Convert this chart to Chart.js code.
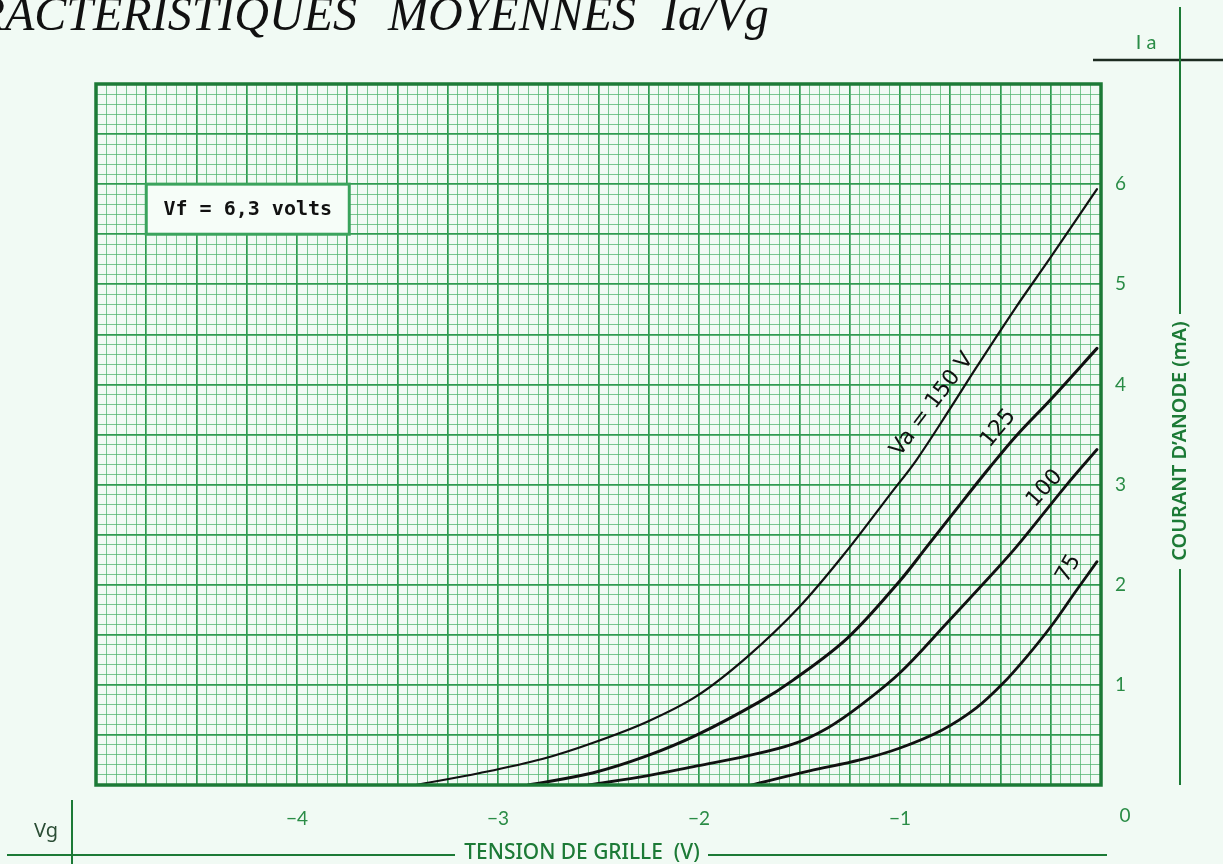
<!DOCTYPE html>
<html>
<head>
<meta charset="utf-8">
<script src="https://cdn.jsdelivr.net/npm/chart.js@4.4.1/dist/chart.umd.min.js"></script>
<style>
  html, body { margin: 0; padding: 0; background: #f1faf4; }
  #wrap { position: relative; width: 1223px; height: 864px; }
</style>
</head>
<body>
<div id="wrap"><canvas id="myChart" width="1223" height="864"></canvas></div>
<script>
// grid voltage (V) and anode current (mA)
const vg150 = [-3.41, -3.09, -2.78, -2.53, -2.26, -2.01, -1.76, -1.50, -1.26, -1.05, -0.92, -0.75, -0.62, -0.42, -0.25, -0.02];
const ia150 = [0, 0.12, 0.26, 0.42, 0.63, 0.89, 1.28, 1.78, 2.35, 2.90, 3.24, 3.76, 4.17, 4.78, 5.27, 5.95];

const vg125 = [-2.85, -2.53, -2.26, -2.01, -1.70, -1.53, -1.26, -1.00, -0.87, -0.67, -0.55, -0.42, -0.25, -0.02];
const ia125 = [0, 0.12, 0.29, 0.50, 0.83, 1.05, 1.47, 2.04, 2.37, 2.88, 3.18, 3.49, 3.85, 4.36];

const vg100 = [-2.55, -2.26, -2.01, -1.76, -1.53, -1.36, -1.20, -1.00, -0.77, -0.54, -0.42, -0.17, -0.02];
const ia100 = [0, 0.09, 0.19, 0.29, 0.41, 0.57, 0.79, 1.12, 1.61, 2.11, 2.38, 3.00, 3.35];

const vg75 = [-1.74, -1.45, -1.20, -1.00, -0.79, -0.62, -0.49, -0.37, -0.25, -0.12, -0.02];
const ia75 = [0, 0.14, 0.25, 0.37, 0.55, 0.77, 1.01, 1.28, 1.58, 1.95, 2.23];

const seriesNames = ['Va = 150 V', '125', '100', '75'];

// tick labels
const xTickValues = [-4, -3, -2, -1];
const xTickLabels = ['\u22124', '\u22123', '\u22122', '\u22121'];
const yTickValues = [1, 2, 3, 4, 5, 6];
const yTickLabels = ['1', '2', '3', '4', '5', '6'];

function pts(xs, ys) {
  return xs.map((x, i) => ({ x: x, y: ys[i] }));
}

const green = '#2a8c46';
const darkGreen = '#1c7a36';
const minorGrid = 'rgba(75,178,105,0.72)';
const majorGrid = '#2f9a50';

// where the hand-written curve names sit (data units) and their slant
const curveLabels = [
  { text: seriesNames[0], x: -0.84, y: 3.80, angle: -53 },
  { text: seriesNames[1], x: -0.51, y: 3.56, angle: -50 },
  { text: seriesNames[2], x: -0.28, y: 2.96, angle: -48 },
  { text: seriesNames[3], x: -0.16, y: 2.16, angle: -60 }
];

const decor = {
  id: 'decor',
  beforeDraw(chart) {
    const c = chart.ctx;
    c.save();
    c.fillStyle = '#f1faf4';
    c.fillRect(0, 0, chart.width, chart.height);
    c.restore();
  },
  afterDatasetsDraw(chart) {
    const c = chart.ctx;
    const a = chart.chartArea;
    const sx = chart.scales.x, sy = chart.scales.y;
    c.save();
    // frame of the graph paper
    c.strokeStyle = darkGreen;
    c.lineWidth = 3.5;
    c.strokeRect(a.left, a.top, a.right - a.left, a.bottom - a.top);

    // Vf box
    const bx0 = sx.getPixelForValue(-4.75), bx1 = sx.getPixelForValue(-3.74);
    const by0 = sy.getPixelForValue(6.0), by1 = sy.getPixelForValue(5.5);
    c.fillStyle = '#f6fdf8';
    c.fillRect(bx0, by0, bx1 - bx0, by1 - by0);
    c.lineWidth = 3;
    c.strokeStyle = '#3aa35c';
    c.strokeRect(bx0, by0, bx1 - bx0, by1 - by0);
    c.fillStyle = '#111';
    c.font = 'bold 20px "DejaVu Sans Mono"';
    c.textAlign = 'center';
    c.textBaseline = 'middle';
    c.fillText('Vf = 6,3 volts', (bx0 + bx1) / 2, (by0 + by1) / 2 + 1);

    // curve names
    c.font = '22px "DejaVu Sans"';
    curveLabels.forEach(l => {
      c.save();
      c.translate(sx.getPixelForValue(l.x), sy.getPixelForValue(l.y));
      c.rotate(l.angle * Math.PI / 180);
      c.fillText(l.text, 0, 0);
      c.restore();
    });
    c.restore();
  },
  afterDraw(chart) {
    const c = chart.ctx;
    const a = chart.chartArea;
    c.save();
    // title, partly cut off on the left
    c.fillStyle = '#111';
    c.font = 'italic 48px "Liberation Serif"';
    c.textBaseline = 'alphabetic';
    c.textAlign = 'right';
    c.fillText('CARACTERISTIQUES', 357, 30);
    c.textAlign = 'left';
    c.fillText('MOYENNES', 388, 30);
    c.fillText('Ia/Vg', 662, 30);

    // origin "0"
    c.fillStyle = green;
    c.font = '19px Lato';
    c.textAlign = 'center';
    c.textBaseline = 'middle';
    c.fillText('0', a.right + 24, a.bottom + 31);

    // Ia corner
    c.font = '20px Lato';
    c.fillText('I a', 1146, 43);
    c.strokeStyle = '#1d2b20';
    c.lineWidth = 2.5;
    c.beginPath(); c.moveTo(1093, 60); c.lineTo(1223, 60); c.stroke();

    // y axis title with its line
    c.strokeStyle = darkGreen;
    c.lineWidth = 2;
    c.beginPath(); c.moveTo(1180, 7); c.lineTo(1180, 314); c.stroke();
    c.beginPath(); c.moveTo(1180, 569); c.lineTo(1180, 785); c.stroke();
    c.save();
    c.translate(1180, 441);
    c.rotate(-Math.PI / 2);
    c.fillStyle = darkGreen;
    c.font = '600 17px "Noto Sans"';
    const w = c.measureText('COURANT D\u2019ANODE (mA)').width;
    c.font = '600 ' + (17 * 240 / w).toFixed(1) + 'px "Noto Sans"';
    c.fillText('COURANT D\u2019ANODE (mA)', 0, 0);
    c.restore();

    // Vg corner and x axis title
    c.fillStyle = '#2b4d35';
    c.font = '20px "Noto Sans"';
    c.fillText('Vg', 46, 831);
    c.beginPath(); c.moveTo(72, 800); c.lineTo(72, 864); c.stroke();
    c.beginPath(); c.moveTo(7, 855); c.lineTo(455, 855); c.stroke();
    c.beginPath(); c.moveTo(708, 855); c.lineTo(1107, 855); c.stroke();
    c.fillStyle = darkGreen;
    c.font = '500 17px "Noto Sans"';
    const w2 = c.measureText('TENSION DE GRILLE  (V)').width;
    c.font = '500 ' + (17 * 235 / w2).toFixed(1) + 'px "Noto Sans"';
    c.fillText('TENSION DE GRILLE  (V)', 582, 853);
    c.restore();
  }
};

function gridColor(ctx) { return ctx.index % 5 === 0 ? majorGrid : minorGrid; }
function gridWidth(ctx) { return ctx.index % 5 === 0 ? 1.7 : 1; }

function pickLabel(v, values, labels) {
  for (let i = 0; i < values.length; i++) {
    if (Math.abs(v - values[i]) < 1e-6) return labels[i];
  }
  return '';
}

const ctx = document.getElementById('myChart');
const chart = new Chart(ctx, {
  type: 'line',
  data: {
    datasets: [
      { label: seriesNames[0], data: pts(vg150, ia150), borderWidth: 2.2 },
      { label: seriesNames[1], data: pts(vg125, ia125), borderWidth: 3 },
      { label: seriesNames[2], data: pts(vg100, ia100), borderWidth: 2.8 },
      { label: seriesNames[3], data: pts(vg75, ia75), borderWidth: 2.8 }
    ].map(d => Object.assign(d, {
      borderColor: '#111',
      pointRadius: 0,
      fill: false,
      tension: 0.35,
      borderCapStyle: 'round'
    }))
  },
  options: {
    responsive: false,
    animation: false,
    layout: { padding: { left: 96, top: 84, right: 0, bottom: 0 } },
    plugins: {
      legend: { display: false },
      tooltip: { enabled: false },
      title: { display: false }
    },
    scales: {
      x: {
        type: 'linear',
        min: -5,
        max: 0,
        ticks: {
          stepSize: 0.05,
          autoSkip: false,
          maxRotation: 0,
          minRotation: 0,
          padding: 22,
          color: green,
          font: { family: 'Lato', size: 19 },
          callback: v => pickLabel(v, xTickValues, xTickLabels)
        },
        grid: { color: gridColor, lineWidth: gridWidth, drawTicks: false },
        border: { display: false },
        afterFit: s => { s.height = 79; }
      },
      y: {
        type: 'linear',
        position: 'right',
        min: 0,
        max: 7,
        ticks: {
          stepSize: 0.1,
          autoSkip: false,
          padding: 14,
          color: green,
          font: { family: 'Lato', size: 19 },
          callback: v => pickLabel(v, yTickValues, yTickLabels)
        },
        grid: { color: gridColor, lineWidth: gridWidth, drawTicks: false },
        border: { display: false },
        afterFit: s => { s.width = 122; }
      }
    }
  },
  plugins: [decor]
});
</script>
</body>
</html>
